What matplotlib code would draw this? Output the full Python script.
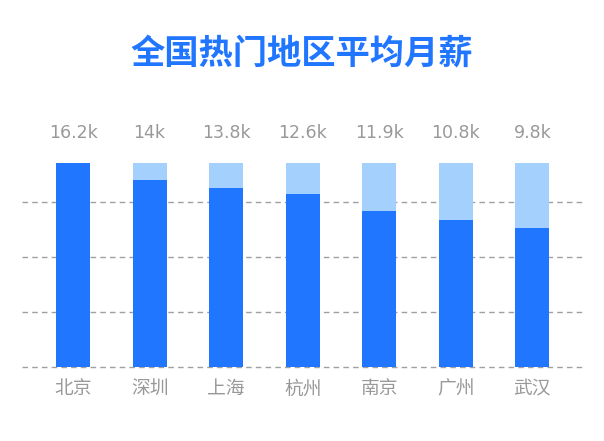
import matplotlib
matplotlib.use("Agg")
import matplotlib.pyplot as plt
import numpy as np

plt.rcParams['font.family'] = ['Noto Sans CJK SC', 'DejaVu Sans']

# data
cities = ["北京", "深圳", "上海", "杭州", "南京", "广州", "武汉"]
salary_labels = ["16.2k", "14k", "13.8k", "12.6k", "11.9k", "10.8k", "9.8k"]
bar_values = [14.86, 13.62, 13.04, 12.60, 11.37, 10.71, 10.13]
bar_max = 14.86
grid_ticks = [0, 4, 8, 12]

DARK = "#2176FF"
LIGHT = "#A4D0FE"
GRAY = "#999999"

W, H = 604, 441
fig = plt.figure(figsize=(W / 100, H / 100), dpi=100)
ax = fig.add_axes([22 / W, 73.7 / H, 560 / W, 15 * 13.75 / H])

x = np.arange(len(cities))
ax.bar(x, [bar_max] * len(cities), width=0.445, color=LIGHT, zorder=2)
ax.bar(x, bar_values, width=0.445, color=DARK, zorder=3)

for t in grid_ticks:
    ax.axhline(t, color="#a0a0a0", lw=1.0, ls=(0, (4, 3)), zorder=1, clip_on=False)

ax.set_xlim(-0.667, 6.65)
ax.set_ylim(0, 15)
for s in ax.spines.values():
    s.set_visible(False)
ax.set_yticks([])
ax.set_xticks(x)
ax.set_xticklabels(cities, fontsize=13.5, color=GRAY)
ax.tick_params(axis="x", length=0, pad=8)

for xi, lab in zip(x, salary_labels):
    ax.annotate(lab, xy=(xi, bar_max), xytext=(0, 18.2), textcoords="offset points",
                ha="center", va="baseline", fontsize=12.5, color=GRAY,
                family="DejaVu Sans")

fig.text(302 / W, 1 - 53 / H, "全国热门地区平均月薪", ha="center", va="center",
         fontsize=24.7, fontweight="heavy", color=DARK)

fig.savefig("out.png", dpi=100)
